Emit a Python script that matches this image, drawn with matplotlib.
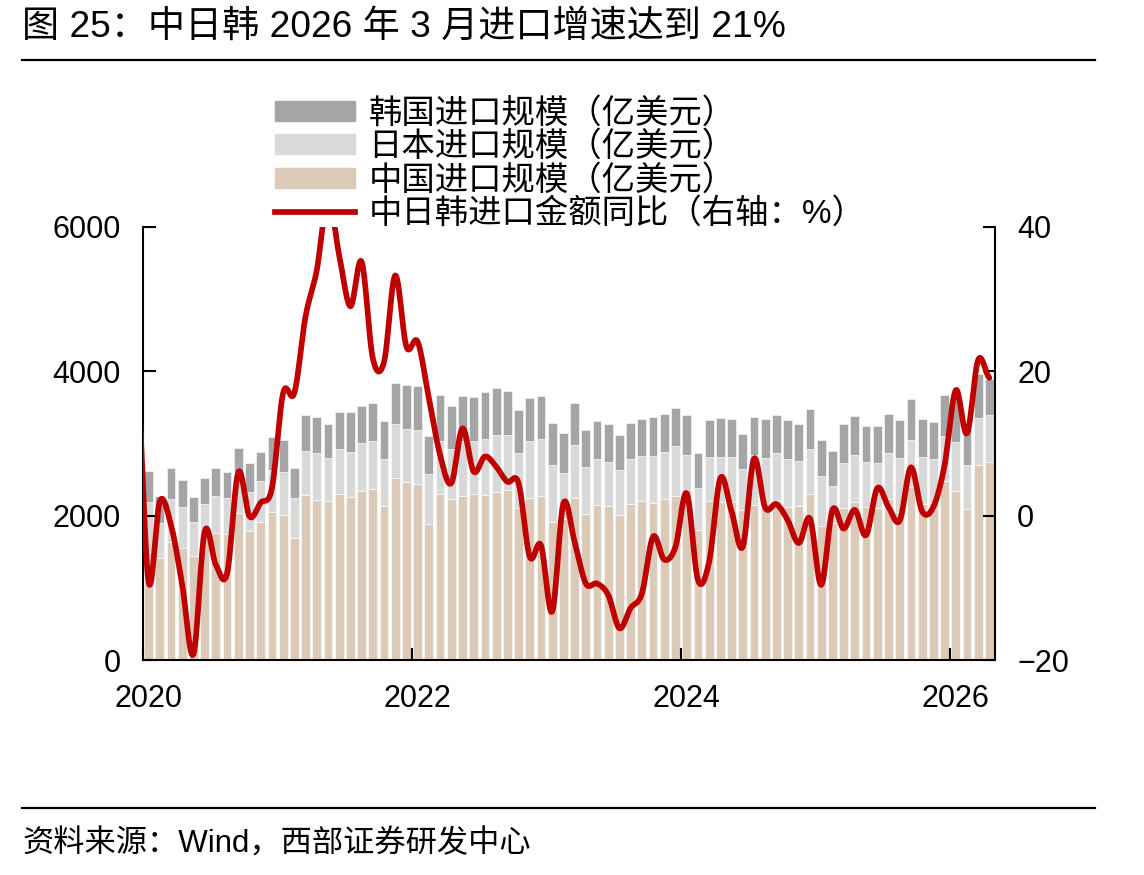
import numpy as np
import matplotlib
matplotlib.use('Agg')
import matplotlib.pyplot as plt
from matplotlib.patches import Patch
from matplotlib.lines import Line2D

plt.rcParams['font.family'] = ['Liberation Sans', 'Noto Sans CJK SC', 'DejaVu Sans']

# monthly data, Jan 2020 - Apr 2026 (bars); line starts one month earlier
china = [1490, 1418, 1640, 1547, 1441, 1670, 1760, 1745, 2033, 1792, 1917, 2055,
         2009, 1695, 2286, 2217, 2203, 2305, 2259, 2342, 2370, 2134, 2526, 2462,
         2439, 1885, 2296, 2226, 2273, 2305, 2286, 2333, 2360, 2111, 2249, 2273,
         1917, 1960, 2249, 2023, 2148, 2134, 2009, 2157, 2208, 2180, 2231, 2277,
         2260, 1801, 2203, 2194, 2194, 2079, 2150, 2125, 2200, 2125, 2139, 2305,
         1857, 1900, 2111, 2194, 2125, 2111, 2231, 2050, 2395, 2160, 2180, 2480,
         2344, 2092, 2706, 2748]
japan = [704, 485, 591, 568, 476, 492, 512, 504, 568, 541, 563, 578,
         601, 545, 610, 647, 591, 619, 628, 660, 669, 647, 740, 739,
         744, 692, 739, 698, 762, 730, 772, 785, 758, 757, 786, 789,
         785, 636, 730, 651, 633, 605, 619, 624, 614, 651, 651, 693,
         581, 582, 605, 614, 614, 568, 691, 669, 664, 656, 618, 619,
         693, 511, 623, 647, 614, 614, 633, 746, 654, 655, 612, 624,
         676, 610, 652, 647]
korea = [425, 369, 425, 379, 346, 355, 389, 351, 332, 392, 398, 453,
         439, 425, 499, 503, 476, 508, 545, 518, 518, 535, 572, 610,
         609, 532, 637, 591, 623, 605, 651, 651, 610, 596, 591, 596,
         582, 550, 587, 513, 535, 531, 490, 503, 513, 532, 522, 522,
         549, 481, 518, 541, 527, 480, 526, 541, 526, 545, 513, 550,
         503, 481, 532, 535, 499, 518, 545, 524, 561, 531, 511, 568,
         620, 548, 600, 505]
# YoY (%), Dec 2019 - Apr 2026
yoy = [19.0,
       -9.2, 2.0, -1.3, -9.6, -19.2, -2.2, -6.8, -8.0, 6.0, -0.1, 1.8, 3.8,
       17.0, 17.0, 27.6, 34.0, 44.0, 36.1, 29.0, 35.2, 21.8, 21.3, 33.3, 23.4,
       24.1, 16.3, 8.4, 4.5, 12.1, 6.1, 8.2, 6.8, 4.7, 4.5, -5.7, -4.1,
       -13.3, 1.7, -3.6, -9.4, -9.4, -11.0, -15.6, -12.8, -10.8, -2.9, -6.1, -4.3,
       3.1, -8.9, -6.4, 5.2, 0.6, -4.3, 7.9, 1.1, 1.6, -0.6, -3.8, -0.4,
       -9.6, 0.8, -1.8, 0.8, -2.7, 3.8, 1.2, -0.7, 6.7, 0.6, 1.2, 7.0,
       17.4, 11.4, 21.6, 19.1]
year_ticks = [0, 24, 48, 72]
year_labels = ['2020', '2022', '2024', '2026']

c_cn = '#DCCAB8'
c_jp = '#D9D9D9'
c_kr = '#A5A5A5'
c_line = '#C00000'


def smooth(xv, yv, n=12):
    # catmull-rom style curve through the points (like excel smoothed lines)
    xv = np.asarray(xv, float)
    yv = np.asarray(yv, float)
    px = np.concatenate([[2 * xv[0] - xv[1]], xv, [2 * xv[-1] - xv[-2]]])
    py = np.concatenate([[yv[0]], yv, [yv[-1]]])
    out_x, out_y = [], []
    t = np.linspace(0, 1, n, endpoint=False)
    for k in range(1, len(px) - 2):
        m0 = (py[k + 1] - py[k - 1]) / 2
        m1 = (py[k + 2] - py[k]) / 2
        h00 = 2 * t**3 - 3 * t**2 + 1
        h10 = t**3 - 2 * t**2 + t
        h01 = -2 * t**3 + 3 * t**2
        h11 = t**3 - t**2
        out_y.append(h00 * py[k] + h10 * m0 + h01 * py[k + 1] + h11 * m1)
        out_x.append(px[k] + t * (px[k + 1] - px[k]))
    out_x.append([xv[-1]])
    out_y.append([yv[-1]])
    return np.concatenate(out_x), np.concatenate(out_y)


china = np.array(china)
japan = np.array(japan)
korea = np.array(korea)
xb = np.arange(len(china)) + 0.5
xl = np.arange(len(yoy)) - 0.5

fig = plt.figure(figsize=(11.44, 8.75), dpi=100)
ax = fig.add_axes([143 / 1144, 1 - 660 / 875, 852 / 1144, 433 / 875])

ax.bar(xb, china, width=0.78, color=c_cn, edgecolor='white', linewidth=0.4)
ax.bar(xb, japan, bottom=china, width=0.78, color=c_jp, edgecolor='white', linewidth=0.4)
ax.bar(xb, korea, bottom=china + japan, width=0.78, color=c_kr, edgecolor='white', linewidth=0.4)
ax.set_xlim(0, len(china))
ax.set_ylim(0, 6000)
ax.set_yticks([0, 2000, 4000, 6000])
ax.set_xticks(year_ticks)
ax.set_xticklabels([])
ax.set_xticks([t + 0.5 for t in year_ticks], minor=True)
ax.set_xticklabels(year_labels, minor=True)
ax.tick_params(axis='x', which='major', direction='in', length=9, width=1.5)
ax.tick_params(axis='x', which='minor', length=0, labelsize=22, pad=17)
ax.tick_params(axis='y', direction='in', length=9, width=1.5, labelsize=22, pad=16)
for s in ['top', 'right']:
    ax.spines[s].set_visible(False)
for s in ['left', 'bottom']:
    ax.spines[s].set_linewidth(1.5)

ax2 = ax.twinx()
sx, sy = smooth(xl, yoy)
ax2.plot(sx, sy, color=c_line, lw=4.1, solid_capstyle='round', solid_joinstyle='round')
ax2.set_ylim(-20, 40)
ax2.set_yticks([-20, 0, 20, 40])
ax2.tick_params(axis='y', direction='in', length=9, width=1.5, labelsize=22, pad=16)
for s in ['top', 'left', 'bottom']:
    ax2.spines[s].set_visible(False)
ax2.spines['right'].set_linewidth(1.5)

handles = [Patch(color=c_kr), Patch(color=c_jp), Patch(color=c_cn),
           Line2D([], [], color=c_line, lw=4.1)]
labels = ['韩国进口规模（亿美元）', '日本进口规模（亿美元）', '中国进口规模（亿美元）',
          '中日韩进口金额同比（右轴：%）']
fig.legend(handles, labels, loc='upper left', bbox_to_anchor=(275 / 1144, 1 - 98 / 875),
           frameon=False, fontsize=24, handlelength=2.4, handleheight=0.55,
           handletextpad=0.4, labelspacing=0.05, borderaxespad=0, borderpad=0)

fig.text(22 / 1144, 1 - 27 / 875, '图 25：中日韩 2026 年 3 月进口增速达到 21%',
         fontsize=26.7, va='center', ha='left')
fig.add_artist(Line2D([22 / 1144, 1095 / 1144], [1 - 60 / 875] * 2, color='black', lw=1.6))
fig.add_artist(Line2D([22 / 1144, 1095 / 1144], [1 - 808 / 875] * 2, color='black', lw=1.6))
fig.text(22 / 1144, 1 - 845 / 875, '资料来源：Wind，西部证券研发中心',
         fontsize=22.5, va='center', ha='left')

fig.savefig('out.png', dpi=100)
